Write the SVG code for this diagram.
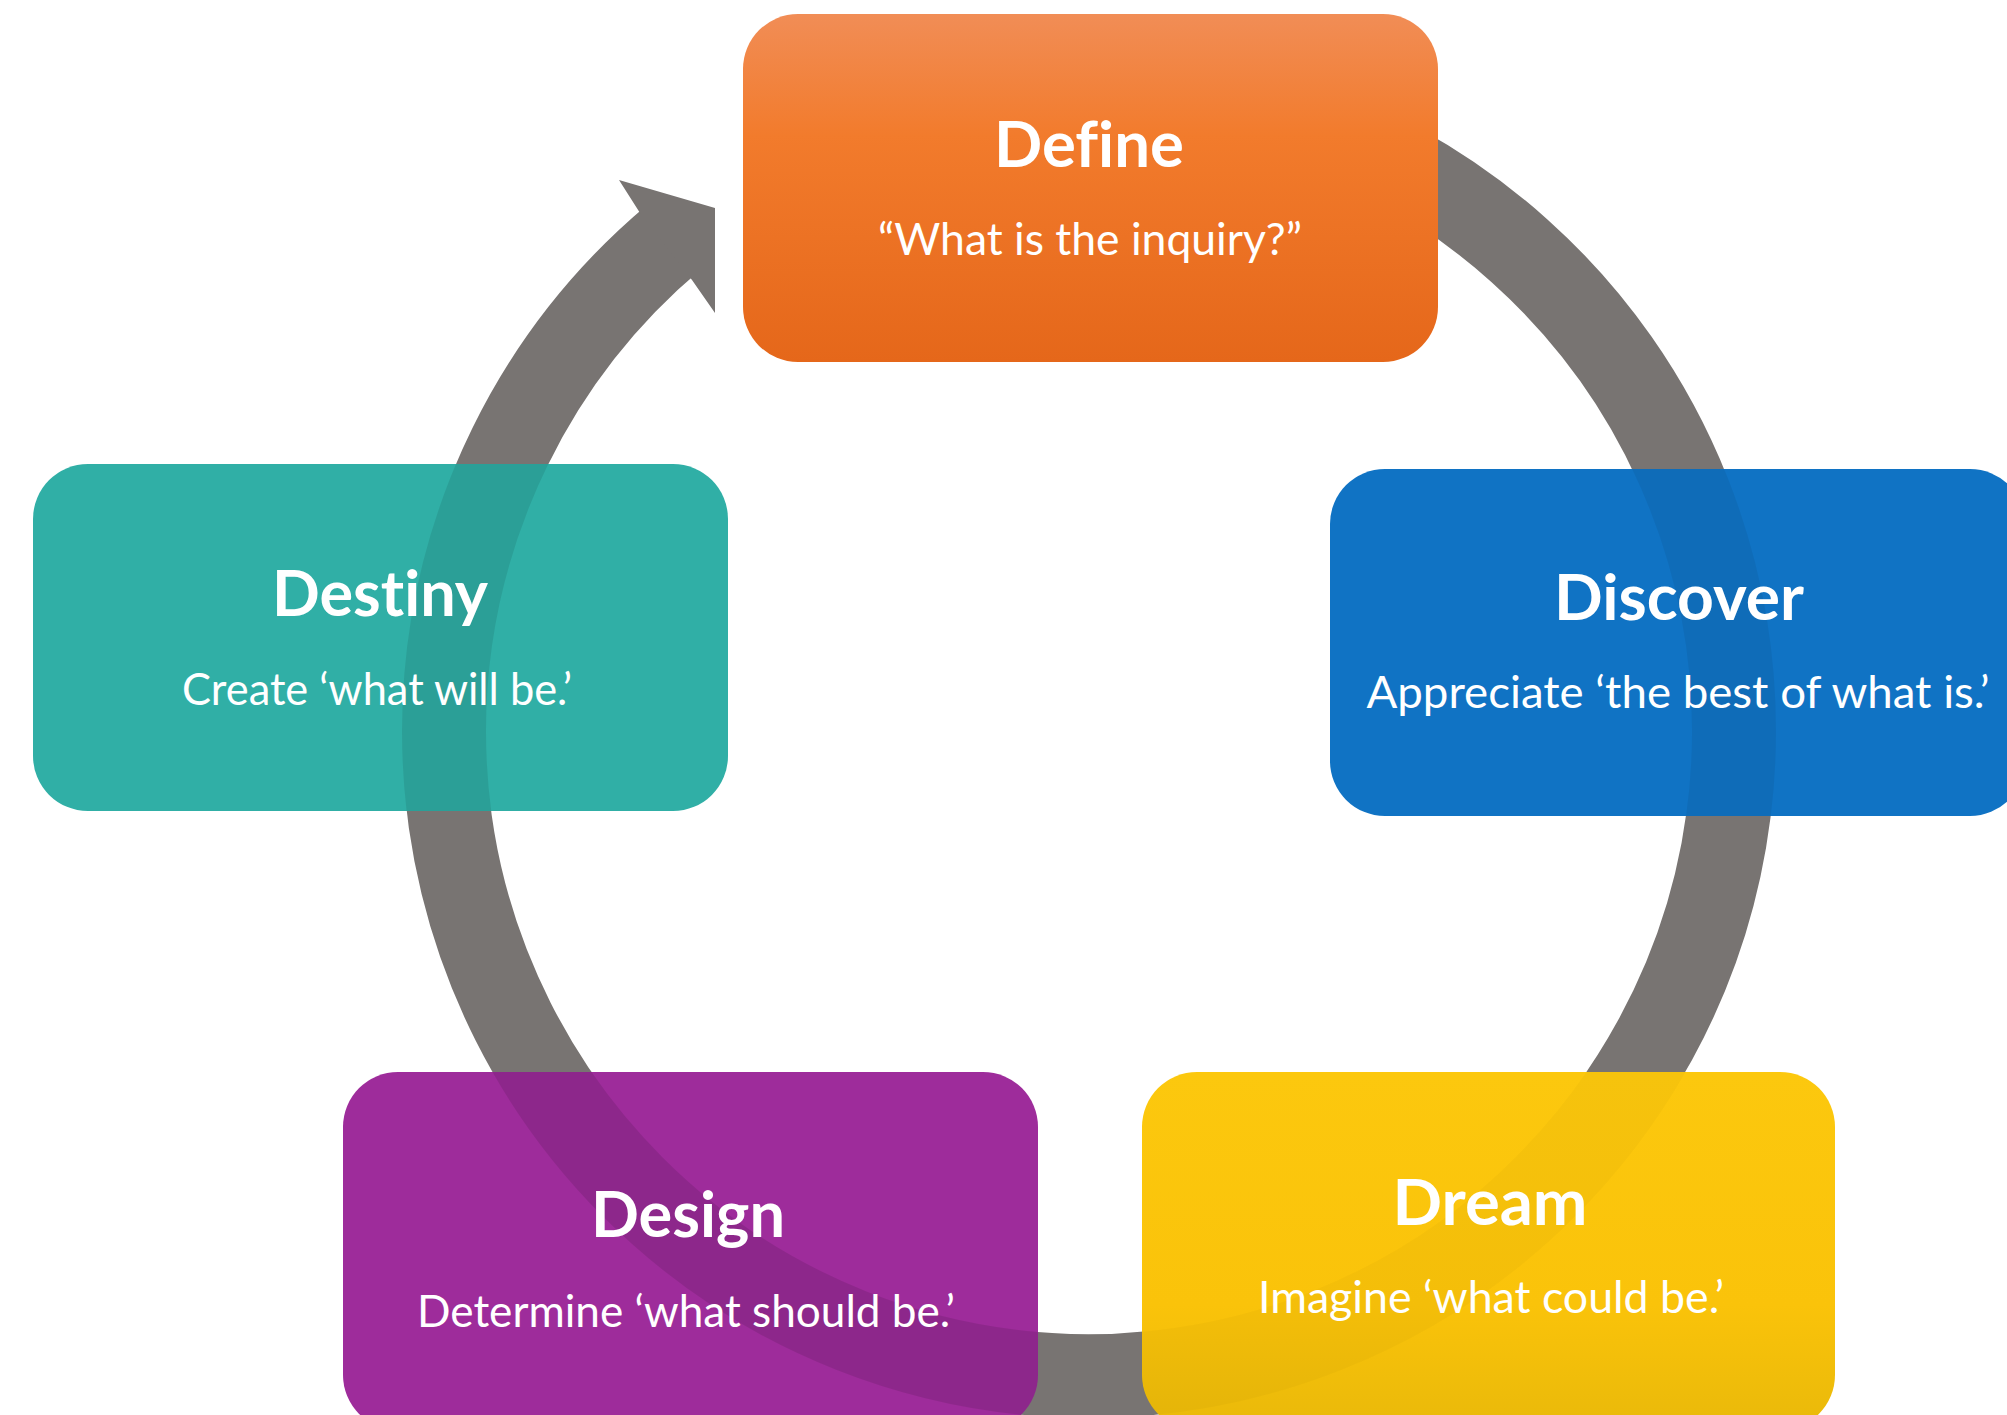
<svg xmlns="http://www.w3.org/2000/svg" width="2007" height="1415" viewBox="0 0 2007 1415">
<style>
.title{font-family:Lato,"Open Sans","Liberation Sans",sans-serif;font-weight:700;font-size:64px;fill:#FFFFFF;text-anchor:middle;font-variant-ligatures:none}
.sub{font-family:Lato,"Open Sans","Liberation Sans",sans-serif;font-weight:400;font-size:44px;fill:#FFFFFF;text-anchor:middle;font-variant-ligatures:none}
.ring{fill:none;stroke:#787472;stroke-width:84}
.shade{fill:none;stroke:#000000;stroke-width:84}
</style>
<defs>
<linearGradient id="gDefine" x1="0" y1="0" x2="0" y2="1">
<stop offset="0" stop-color="#F18D56"/>
<stop offset="0.35" stop-color="#F27B2C"/>
<stop offset="1" stop-color="#E5671A"/>
</linearGradient>
<linearGradient id="gDream" x1="0" y1="0" x2="0" y2="1">
<stop offset="0" stop-color="#FCC80E"/>
<stop offset="0.65" stop-color="#FAC30A"/>
<stop offset="1" stop-color="#E9B90A"/>
</linearGradient>
<clipPath id="cDiscover"><rect x="1330" y="469" width="695" height="347" rx="55"/></clipPath>
<clipPath id="cDestiny"><rect x="33" y="464" width="695" height="347" rx="55"/></clipPath>
<clipPath id="cDesign"><rect x="343" y="1072" width="695" height="358" rx="55"/></clipPath>
<clipPath id="cDream"><rect x="1142" y="1072" width="693" height="358" rx="55"/></clipPath>
</defs>

<g id="connectors">
<path id="cycle-ring" class="ring" d="M 1288.3 117.6 A 645 645 0 1 1 674.4 236.9"/>
<polygon id="cycle-arrowhead" fill="#787472" points="619,180 715,208 715,313 692,280 640,213"/>
</g>

<g id="node-define">
<rect x="743" y="14" width="695" height="348" rx="55" fill="url(#gDefine)"/>
<text class="title" x="1089" y="167" textLength="190" lengthAdjust="spacingAndGlyphs">Define</text>
<text class="sub" x="1090" y="255" textLength="424" lengthAdjust="spacingAndGlyphs">“What is the inquiry?”</text>
</g>

<g id="node-discover">
<rect x="1330" y="469" width="695" height="347" rx="55" fill="#1073C4"/>
<circle class="shade" clip-path="url(#cDiscover)" cx="1089" cy="731" r="645" style="stroke-opacity:0.06"/>
<text class="title" x="1679" y="620" textLength="250" lengthAdjust="spacingAndGlyphs">Discover</text>
<text class="sub" x="1678" y="708" textLength="623" lengthAdjust="spacingAndGlyphs">Appreciate ‘the best of what is.’</text>
</g>

<g id="node-dream">
<rect x="1142" y="1072" width="693" height="358" rx="55" fill="url(#gDream)"/>
<circle class="shade" clip-path="url(#cDream)" cx="1089" cy="731" r="645" style="stroke-opacity:0.025"/>
<text class="title" x="1490" y="1225" textLength="195" lengthAdjust="spacingAndGlyphs">Dream</text>
<text class="sub" x="1491" y="1313" textLength="466" lengthAdjust="spacingAndGlyphs">Imagine ‘what could be.’</text>
</g>

<g id="node-design">
<rect x="343" y="1072" width="695" height="358" rx="55" fill="#9E2C9B"/>
<circle class="shade" clip-path="url(#cDesign)" cx="1089" cy="731" r="645" style="stroke-opacity:0.1"/>
<text class="title" x="688" y="1237" textLength="194" lengthAdjust="spacingAndGlyphs">Design</text>
<text class="sub" x="686" y="1327" textLength="538" lengthAdjust="spacingAndGlyphs">Determine ‘what should be.’</text>
</g>

<g id="node-destiny">
<rect x="33" y="464" width="695" height="347" rx="55" fill="#30AFA6"/>
<circle class="shade" clip-path="url(#cDestiny)" cx="1089" cy="731" r="645" style="stroke-opacity:0.09"/>
<text class="title" x="380" y="616" textLength="216" lengthAdjust="spacingAndGlyphs">Destiny</text>
<text class="sub" x="377" y="705" textLength="390" lengthAdjust="spacingAndGlyphs">Create ‘what will be.’</text>
</g>
</svg>
